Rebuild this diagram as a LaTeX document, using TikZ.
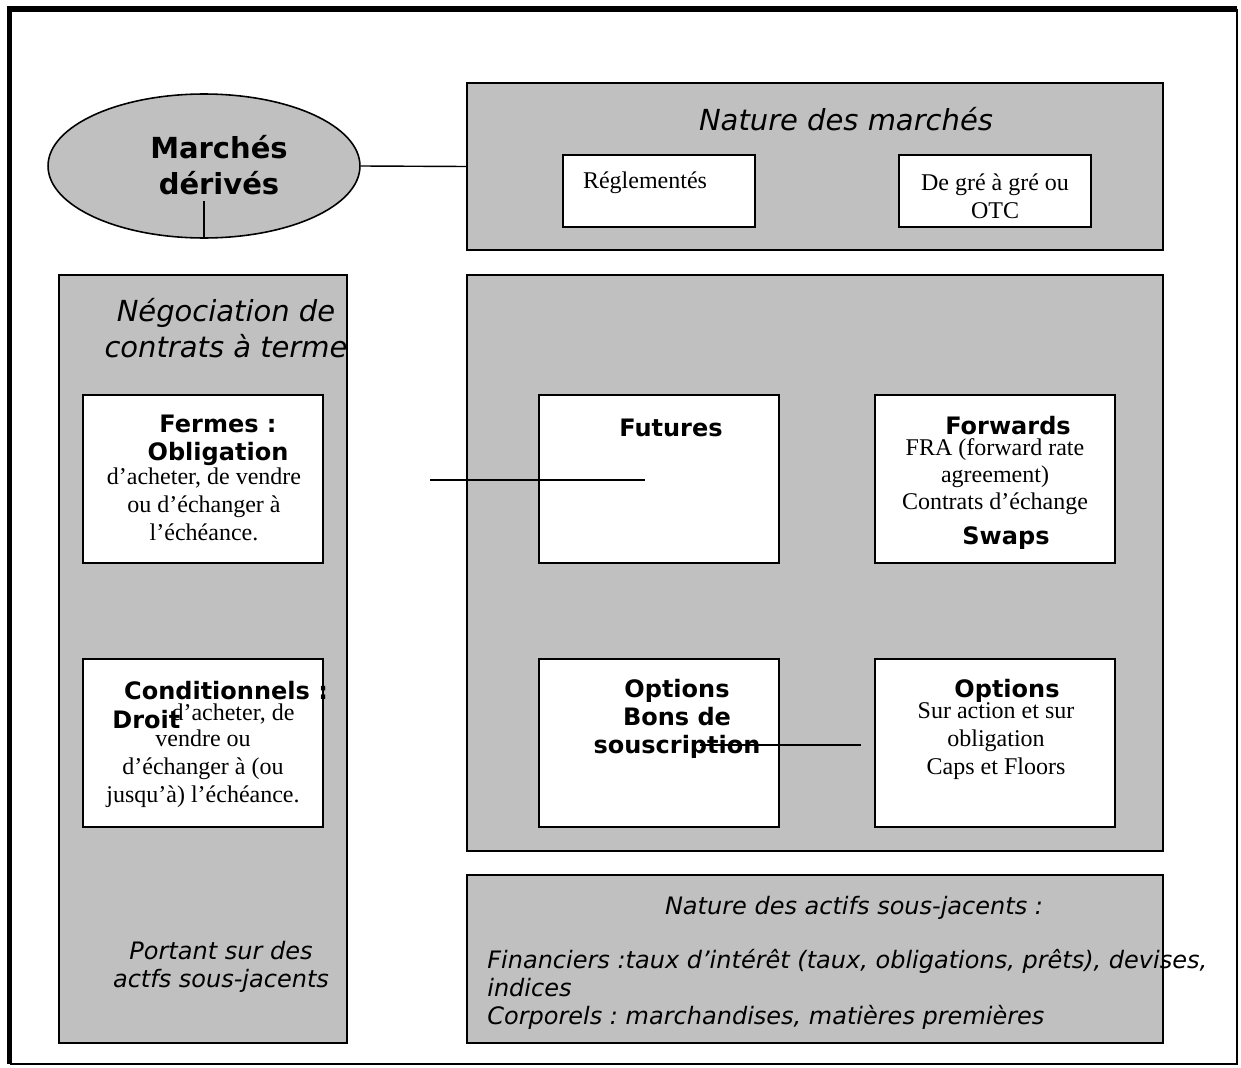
\documentclass[tikz,border=0pt]{standalone}
\usepackage{fontspec}
\usetikzlibrary{shapes.geometric}
\setmainfont{Liberation Serif}
\newfontfamily\sansdv{DejaVu Sans}
\definecolor{gris}{RGB}{192,192,192}
\newcommand{\titre}{\sansdv\fontsize{16.5}{20.5}\selectfont}
\newcommand{\gras}{\sansdv\bfseries\fontsize{13.66}{15.94}\selectfont}
\newcommand{\texte}{\fontsize{13.66}{15.94}\selectfont}
\newcommand{\penche}{\sansdv\itshape\fontsize{13.66}{15.94}\selectfont}
\frenchspacing

\begin{document}
\begin{tikzpicture}[x=0.02cm, y=-0.02cm,
    cadre/.style={draw, fill=gris, line width=0.9pt, inner sep=0pt},
    boite/.style={draw, fill=white, line width=0.9pt, inner sep=0pt, minimum width=4.8cm, minimum height=3.36cm},
    trait/.style={line width=0.8pt},
    texte/.style={inner sep=0pt, align=center}]
    \useasboundingbox (0,0) rectangle (1241,1068);

    % Cadre exterieur
    \draw[line width=3pt] (9.5,1064) -- (9.5,9) -- (1237,9);
    \draw[line width=1.4pt] (1237,9) -- (1237,1064) -- (9.5,1064);

    % Marches derives
    \node[ellipse, draw, fill=gris, line width=0.9pt, minimum width=6.24cm, minimum height=2.88cm, inner sep=0pt] (marches) at (204,166) {};
    \node[texte, font=\titre\bfseries] (marchest) at (219,165) {Marchés\\dérivés};

    % Grands cadres gris
    \node[cadre, minimum width=13.92cm, minimum height=3.34cm] (nature) at (815,166.5) {};
    \node[cadre, minimum width=5.76cm, minimum height=15.36cm] (negoc) at (203,659) {};
    \node[cadre, minimum width=13.92cm, minimum height=11.52cm] (produits) at (815,563) {};
    \node[cadre, minimum width=13.92cm, minimum height=3.36cm] (actifs) at (815,959) {};

    % Nature des marches
    \node[texte, font=\titre\itshape] (naturet) at (846,119) {Nature des marchés};
    \node[boite, minimum width=3.84cm, minimum height=1.44cm] (regl) at (659,191) {};
    \node[texte, font=\texte] (reglt) at (645,183) {Réglementés};
    \node[boite, minimum width=3.84cm, minimum height=1.44cm] (gre) at (995,191) {};
    \node[texte, font=\texte] (gret) at (995,196) {De gré à gré ou\\OTC};

    % Negociation de contrats a terme
    \node[texte, font=\titre\itshape] (negoct) at (226,328) {Négociation de\\contrats à terme};
    \node[boite] (fermes) at (203,479) {};
    \node[texte, font=\gras] (fermest) at (218,440) {Fermes :\\Obligation};
    \node[texte, font=\texte] (fermesd) at (204,504) {d’acheter, de vendre\\ou d’échanger à\\l’échéance.};
    \node[boite] (cond) at (203,743) {};
    \node[texte, font=\gras] (condt) at (226,691) {Conditionnels :};
    \node[texte, font=\gras, anchor=west] (droit) at (112,720) {Droit};
    \node[texte, font=\texte] (condd) at (233,714) {d’acheter, de};
    \node[texte, font=\texte] (conde) at (203,769) {vendre ou\\d’échanger à (ou\\jusqu’à) l’échéance.};
    \node[texte, font=\penche] (portant) at (221,967) {Portant sur des\\actfs sous-jacents};

    % Produits
    \node[boite] (futures) at (659,479) {};
    \node[texte, font=\gras] (futurest) at (671,428) {Futures};
    \node[boite] (forwards) at (995,479) {};
    \node[texte, font=\gras] (forwardst) at (1008,426) {Forwards};
    \node[texte, font=\fontsize{13.66}{15.4}\selectfont] (forwardsd) at (995,477) {FRA (forward rate\\agreement)\\Contrats d’échange};
    \node[texte, font=\gras] (swaps) at (1006,538) {Swaps};
    \node[boite] (optbons) at (659,743) {};
    \node[texte, font=\gras] (optbonst) at (677,719) {Options\\Bons de\\souscription};
    \node[boite] (optcaps) at (995,743) {};
    \node[texte, font=\gras] (optcapst) at (1007,691) {Options};
    \node[texte, font=\texte] (optcapsd) at (996,741) {Sur action et sur\\obligation\\Caps et Floors};

    % Nature des actifs
    \node[texte, font=\penche] (actifst) at (854,908) {Nature des actifs sous-jacents :};
    \node[texte, font=\penche, align=left, anchor=west] (actifsd) at (487,989) {Financiers :taux d’intérêt (taux, obligations, prêts), devises,\\indices\\Corporels : marchandises, matières premières};

    % Liaisons
    \coordinate (marchesb) at (204,201);
    \coordinate (futg) at (430,480);
    \coordinate (futd) at (645,480);
    \coordinate (optg) at (700,745);
    \coordinate (optd) at (861,745);
    \draw[trait] (marches.east) -- (nature.west);
    \draw[trait] (marches.south) -- (marchesb);
    \draw[trait] (futg) -- (futd);
    \draw[trait] (optg) -- (optd);
\end{tikzpicture}
\end{document}
